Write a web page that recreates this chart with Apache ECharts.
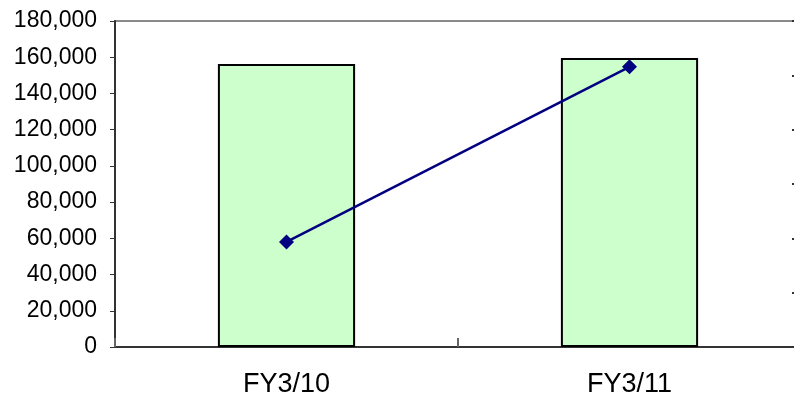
<!DOCTYPE html>
<html>
<head>
<meta charset="utf-8">
<script src="https://cdn.jsdelivr.net/npm/echarts@6/dist/echarts.min.js"></script>
<style>
html,body{margin:0;padding:0;background:#fff;}
#chart{width:794px;height:398px;}
</style>
</head>
<body>
<div id="chart"></div>
<script>
const categories = ['FY3/10', 'FY3/11'];
const barValues = [156200, 159600];
const lineValues = [58000, 154700];
const leftTicks = {min: 0, max: 180000, interval: 20000};
const rightTicks = {min: 0, max: 6, interval: 1};

const chart = echarts.init(document.getElementById('chart'), null, {renderer: 'canvas'});
const font = 'Liberation Sans, Arial, sans-serif';
chart.setOption({
  animation: false,
  backgroundColor: '#ffffff',
  grid: {left: 115, top: 21, width: 686, bottom: 51, outerBoundsMode: 'none', containLabel: false,
    show: true, borderColor: '#8a8a8a', borderWidth: 2, backgroundColor: 'transparent'},
  xAxis: {
    type: 'category',
    data: categories,
    axisLine: {lineStyle: {color: '#333333', width: 2}},
    axisTick: {show: true, inside: true, length: 9, lineStyle: {color: '#666666', width: 2}},
    axisLabel: {color: '#000', fontFamily: font, fontSize: 27, margin: 24},
    splitLine: {show: false}
  },
  yAxis: [{
    type: 'value',
    min: leftTicks.min, max: leftTicks.max, interval: leftTicks.interval,
    axisLine: {show: true, lineStyle: {color: '#333333', width: 2}},
    axisTick: {show: true, length: 5, lineStyle: {color: '#333333', width: 1}},
    axisLabel: {color: '#000', fontFamily: font, fontSize: 23, margin: 18,
      formatter: v => v.toLocaleString('en-US')},
    splitLine: {show: false}
  }, {
    type: 'value', position: 'right',
    min: rightTicks.min, max: rightTicks.max, interval: rightTicks.interval,
    axisLine: {show: true, lineStyle: {color: '#333333', width: 2}},
    axisTick: {show: true, inside: true, length: 9, lineStyle: {color: '#333333', width: 2}},
    axisLabel: {show: false},
    splitLine: {show: false}
  }],
  series: [{
    type: 'bar',
    data: barValues,
    barWidth: '40%',
    itemStyle: {color: '#CCFFCC', borderColor: '#000000', borderWidth: 2}
  }, {
    type: 'line',
    data: lineValues,
    yAxisIndex: 0,
    symbol: 'diamond',
    symbolSize: 15,
    lineStyle: {color: '#000080', width: 2.5},
    itemStyle: {color: '#000080'}
  }]
});
</script>
</body>
</html>
